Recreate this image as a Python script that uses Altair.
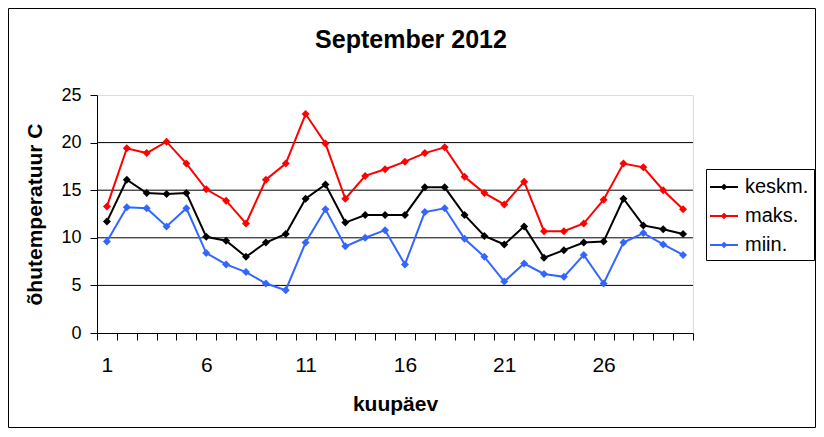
import altair as alt
import pandas as pd

# ---- data ----
days = list(range(1, 31))
keskm = [11.7, 16.1, 14.7, 14.6, 14.7, 10.1, 9.7, 8.0, 9.5, 10.4,
         14.1, 15.6, 11.6, 12.4, 12.4, 12.4, 15.3, 15.3, 12.4, 10.2,
         9.3, 11.2, 7.9, 8.7, 9.5, 9.6, 14.1, 11.3, 10.9, 10.4]
maks = [13.3, 19.4, 18.9, 20.1, 17.8, 15.1, 13.9, 11.5, 16.1, 17.8,
        23.0, 19.9, 14.1, 16.5, 17.2, 18.0, 18.9, 19.5, 16.4, 14.7,
        13.5, 15.9, 10.7, 10.7, 11.5, 14.0, 17.8, 17.4, 15.0, 13.0]
miin = [9.6, 13.2, 13.1, 11.2, 13.1, 8.4, 7.2, 6.4, 5.2, 4.5,
        9.5, 13.0, 9.1, 10.0, 10.8, 7.2, 12.7, 13.1, 9.9, 8.0,
        5.4, 7.3, 6.2, 5.9, 8.2, 5.2, 9.5, 10.5, 9.3, 8.2]
series = ["keskm.", "maks.", "miin."]
colors = ["#000000", "#FF0000", "#3366FF"]
y_ticks = [0, 5, 10, 15, 20, 25]
grid_vals = [5, 10, 15, 20]
x_ticks = [i + 0.5 for i in range(31)]

rows = []
for name, vals in zip(series, [keskm, maks, miin]):
    for d, v in zip(days, vals):
        rows.append({"day": d, "temp": v, "series": name})
df = pd.DataFrame(rows)

FONT = "Liberation Sans"
W, H = 596, 238
PL, PT = 89, 87
TW, TH = 808, 420
PR = TW - PL - W
PB = TH - PT - H

x_scale = alt.Scale(domain=[0.5, 30.5], nice=False, zero=False)
y_scale = alt.Scale(domain=[0, 25], nice=False, zero=True)

y_axis = alt.Axis(
    values=y_ticks, labelFont=FONT, labelFontSize=18, labelColor="black",
    labelPadding=9, tickSize=7, tickColor="black", tickWidth=1,
    domainColor="black", domainWidth=1, grid=False,
    title="õhutemperatuur C", titleFont=FONT, titleFontSize=21,
    titleFontWeight="bold", titleColor="black", titleX=-56, titleY=H / 2,
    titleAngle=270, titleBaseline="alphabetic", titleAlign="center",
)
x_axis = alt.Axis(
    values=x_ticks,
    labelExpr="(datum.value - 1.5) % 5 == 0 ? toString(datum.value - 0.5) : ''",
    labelOffset=-W / 30 / 2, labelFont=FONT, labelFontSize=21, labelColor="black",
    labelPadding=14, labelOverlap=False, labelFlush=False,
    tickSize=7, tickColor="black", tickWidth=1,
    domainColor="black", domainWidth=1, grid=False,
    title="kuupäev", titleFont=FONT, titleFontSize=21, titleFontWeight="bold",
    titleColor="black", titleX=W / 2, titleY=77, titleBaseline="alphabetic",
    titleAlign="center",
)

frame = alt.Chart(pd.DataFrame({"k": [0]})).mark_rect(
    fillOpacity=0, stroke="black", strokeWidth=1
).encode(
    x=alt.value(-PL + 0.5), x2=alt.value(W + PR - 0.5),
    y=alt.value(-PT + 0.5), y2=alt.value(H + PB - 0.5),
)

grid = alt.Chart(pd.DataFrame({"temp": grid_vals})).mark_rule(
    color="black", strokeWidth=1
).encode(y=alt.Y("temp:Q", scale=y_scale, axis=y_axis))

legend = alt.Legend(
    title=None, orient="none", legendX=609, legendY=74, padding=5,
    strokeColor="black", fillColor="white", cornerRadius=0,
    labelFont=FONT, labelFontSize=20, labelColor="black", labelOffset=8,
    symbolType="M-1.17,0L1.17,0M0,-0.16L0.16,0L0,0.16L-0.16,0Z",
    symbolSize=576, symbolStrokeWidth=2, rowPadding=6,
)

lines = alt.Chart(df).mark_line(
    strokeWidth=2,
    point=alt.OverlayMarkDef(shape="diamond", filled=True, size=64),
).encode(
    x=alt.X("day:Q", scale=x_scale, axis=x_axis),
    y=alt.Y("temp:Q", scale=y_scale, axis=y_axis),
    color=alt.Color("series:N", scale=alt.Scale(domain=series, range=colors),
                    legend=legend),
)

chart = alt.layer(frame, grid, lines).properties(
    width=W, height=H,
    autosize=alt.AutoSizeParams(type="none"),
    padding={"left": PL, "top": PT, "right": PR, "bottom": PB},
    title=alt.TitleParams(
        "September 2012", font=FONT, fontSize=25, fontWeight="bold",
        color="black", anchor="middle", frame="group", offset=-65,
        baseline="alphabetic", dx=16,
    ),
).configure_view(
    fill="#C0C0C0", stroke="#808080", strokeWidth=1
).configure(background="white")

chart.save("out.html", embed_options={"renderer": "svg", "actions": False})
